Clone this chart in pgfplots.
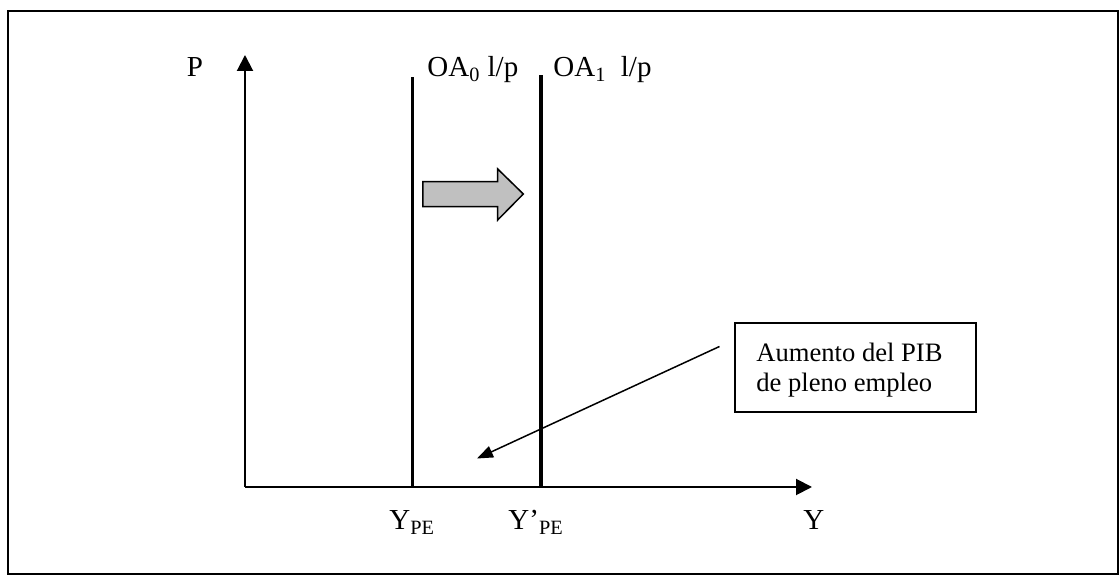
\documentclass[border=0pt]{standalone}
\usepackage{fontspec}
\setmainfont{Liberation Serif}
\usepackage{pgfplots}
\pgfplotsset{compat=1.18}
\usetikzlibrary{arrows.meta}
\definecolor{shiftgray}{RGB}{192,192,192}
% 1 px of the reference = 0.5pt
\newcommand{\lbl}{\fontsize{14.5}{17}\selectfont}
\newcommand{\boxtxt}{\fontsize{13.3}{15}\selectfont}

\begin{document}
\begin{tikzpicture}
\begin{axis}[
    scale only axis,
    width=283.5pt, height=216pt,
    xmin=245, xmax=812,
    ymin=89, ymax=521,
    axis lines=left,
    axis line style={line width=1pt, -{Triangle[length=8pt,width=8pt]}},
    xtick=\empty, ytick=\empty,
    clip=false,
]
% supply curves (vertical)
\addplot[black, line width=1.7pt] coordinates {(412.5,89) (412.5,499)};
\addplot[black, line width=1.7pt] coordinates {(541,89) (541,501)};

% outer frame and page size
\path (axis cs:0,0) rectangle (axis cs:1119,576);
\draw[line width=1pt] (axis cs:8.5,1.5) rectangle (axis cs:1117.5,565);

% shift arrow
\filldraw[fill=shiftgray, draw=black, line width=0.75pt, line join=miter]
  (axis cs:423,369.3) -- (axis cs:497.7,369.3) -- (axis cs:497.7,356)
  -- (axis cs:523.3,382) -- (axis cs:497.7,407) -- (axis cs:497.7,394.3)
  -- (axis cs:423,394.3) -- cycle;

% labels
\node[anchor=base, font=\lbl] at (axis cs:195,499) {P};
\node[anchor=base west, font=\lbl, inner sep=0pt] at (axis cs:427,499) {OA\textsubscript{0} l/p};
\node[anchor=base west, font=\lbl, inner sep=0pt] at (axis cs:553,499) {OA\textsubscript{1}\ \ l/p};
\node[anchor=base west, font=\lbl, inner sep=0pt] at (axis cs:389,46) {Y\textsubscript{PE}};
\node[anchor=base west, font=\lbl, inner sep=0pt] at (axis cs:508,46) {Y’\textsubscript{PE}};
\node[anchor=base west, font=\lbl, inner sep=0pt] at (axis cs:803,46) {Y};

% annotation box
\draw[line width=1pt] (axis cs:735,164) rectangle (axis cs:976,253);
\node[anchor=base west, font=\boxtxt, inner sep=0pt] at (axis cs:756,214.3) {Aumento del PIB};
\node[anchor=base west, font=\boxtxt, inner sep=0pt] at (axis cs:756,184.3) {de pleno empleo};
\draw[line width=0.75pt, -{Triangle[length=8pt,width=6pt]}] (axis cs:719.5,229.5) -- (axis cs:477,117.5);
\end{axis}
\end{tikzpicture}
\end{document}
